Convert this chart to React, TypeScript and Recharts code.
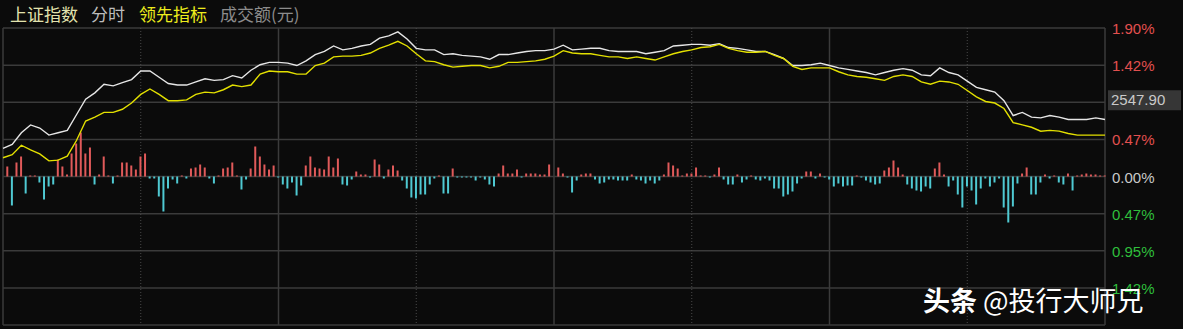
import React from "react";
import { ComposedChart, Bar, Line, XAxis, YAxis, CartesianGrid, Cell } from "recharts";

// minute index 0..240 (9:30-11:30, 13:00-15:00), lines sampled every 2 minutes
const LINE_STEP = 2;

// 上证指数 white line, % change vs previous close
const INDEX_PCT = [
  0.36, 0.41, 0.56, 0.66, 0.62, 0.53, 0.56, 0.59, 0.79, 0.99,
  1.07, 1.18, 1.16, 1.2, 1.24, 1.35, 1.35, 1.27, 1.19, 1.17,
  1.17, 1.21, 1.25, 1.23, 1.24, 1.29, 1.26, 1.36, 1.43, 1.46,
  1.46, 1.45, 1.42, 1.48, 1.56, 1.6, 1.67, 1.62, 1.64, 1.67,
  1.69, 1.77, 1.8, 1.85, 1.76, 1.64, 1.62, 1.62, 1.56, 1.57,
  1.55, 1.54, 1.53, 1.5, 1.56, 1.56, 1.58, 1.6, 1.61, 1.61,
  1.63, 1.68, 1.62, 1.63, 1.64, 1.64, 1.61, 1.6, 1.6, 1.6,
  1.57, 1.59, 1.61, 1.67, 1.68, 1.69, 1.69, 1.68, 1.7, 1.65,
  1.64, 1.62, 1.6, 1.6, 1.56, 1.51, 1.42, 1.42, 1.43, 1.45,
  1.42, 1.39, 1.37, 1.35, 1.33, 1.3, 1.33, 1.36, 1.38, 1.36,
  1.3, 1.29, 1.39, 1.33, 1.3, 1.22, 1.14, 1.11, 1.08, 0.97,
  0.78, 0.82, 0.76, 0.75, 0.78, 0.76, 0.73, 0.73, 0.73, 0.75,
  0.73,
];

// 领先指标 yellow line
const LEAD_PCT = [
  0.24, 0.28, 0.4, 0.34, 0.29, 0.2, 0.21, 0.26, 0.46, 0.71,
  0.76, 0.82, 0.82, 0.86, 0.94, 1.05, 1.12, 1.05, 0.97, 0.97,
  0.98, 1.05, 1.08, 1.07, 1.11, 1.17, 1.15, 1.17, 1.31, 1.35,
  1.34, 1.34, 1.31, 1.31, 1.42, 1.45, 1.53, 1.54, 1.54, 1.55,
  1.58, 1.64, 1.68, 1.73, 1.67, 1.57, 1.48, 1.47, 1.43, 1.4,
  1.41, 1.42, 1.42, 1.39, 1.41, 1.46, 1.46, 1.47, 1.48, 1.5,
  1.54, 1.61, 1.58, 1.57, 1.57, 1.55, 1.53, 1.53, 1.51, 1.53,
  1.51, 1.49, 1.53, 1.57, 1.6, 1.62, 1.65, 1.66, 1.69, 1.64,
  1.61, 1.59, 1.59, 1.6, 1.55, 1.51, 1.41, 1.37, 1.39, 1.39,
  1.39, 1.34, 1.3, 1.28, 1.27, 1.25, 1.23, 1.28, 1.3, 1.28,
  1.21, 1.18, 1.22, 1.21, 1.18, 1.1, 1.02, 0.96, 0.94, 0.87,
  0.69, 0.66, 0.63, 0.58, 0.59, 0.58, 0.55, 0.53, 0.53, 0.53,
  0.53,
];

// buy/sell pressure bars, one per minute (relative units)
const PRESSURE = [
  0, 10, -29, 14, 20, -17, 1, 1, -6, -23,
  -10, -8, 17, 10, 2, 23, 33, 44, 23, 29,
  -8, 2, 20, 1, -7, 1, 14, 14, 11, 7,
  20, 23, -2, -2, -20, -35, -12, -3, -7, 1,
  -2, 8, 9, 12, 9, -2, -7, 1, 8, 9,
  14, 1, -13, -3, 8, 30, 20, 12, 7, 11,
  -1, -8, -12, -6, -19, -9, 11, 20, 9, 8,
  7, 20, 9, 18, -8, -9, -3, 5, 2, 2,
  -1, 17, 12, -2, 7, 11, 6, -4, -12, -21,
  -22, -18, -18, -8, -2, 1, -17, -17, 8, -1,
  -1, -1, -1, -4, -1, -3, -8, -10, 3, 11,
  3, 3, 7, -1, 3, 3, 3, 2, 2, 12,
  0, 9, 3, -1, -16, -4, 2, 3, 3, -3,
  -7, -6, -3, -3, -4, -4, -4, 2, -3, -4,
  -7, -4, -7, -4, 2, 14, 11, 8, 1, 3,
  3, 9, 1, 1, -1, 2, 9, -3, -8, -8,
  2, -6, -3, 1, -3, -4, -2, -4, -12, -12,
  -20, -18, -15, -7, -2, 5, 5, -2, 3, -1,
  -3, -10, -7, -10, -9, -9, 1, -1, -4, -6,
  -8, -7, 6, 9, 16, 9, 2, -8, -12, -14,
  -15, -10, -12, 8, 14, 2, -10, -4, -18, -31,
  -10, -14, -28, -12, -2, -10, -6, -2, -31, -46,
  -30, -7, 3, 9, -18, -18, -6, 2, -2, 1,
  -6, -8, 3, -14, 1, 2, 3, 2, 2, 1,
  1,
];

const PCT_TICKS = [1.9, 1.425, 0.95, 0.475, 0, -0.475, -0.95, -1.425, -1.9];
const PCT_LABELS = ["1.90%", "1.42%", "2547.90", "0.47%", "0.00%", "0.47%", "0.95%", "1.42%", ""];
const PRICE_TICK = 0.95;

const HALF_HOURS = [30, 60, 90, 120, 150, 180, 210];

const table = PRESSURE.map((p, t) => ({
  t,
  pressure: p,
  index: t % LINE_STEP === 0 ? INDEX_PCT[t / LINE_STEP] : null,
  lead: t % LINE_STEP === 0 ? LEAD_PCT[t / LINE_STEP] : null,
}));

const RED = "#e2504f";
const GREEN = "#2fbf3c";
const GRID = "#3b3b3b";

function PctTick(props: any) {
  const { y, payload } = props;
  const i = PCT_TICKS.indexOf(payload.value);
  const label = PCT_LABELS[i] ?? "";
  if (!label) return null;
  if (payload.value === PRICE_TICK) {
    return (
      <g>
        <rect x={1108} y={y - 12} width={73} height={20} fill="#363636" />
        <text x={1111} y={y + 3} fill="#c9c9c9" fontSize={15} fontFamily="Liberation Sans, Arial, sans-serif">
          {label}
        </text>
      </g>
    );
  }
  const color = payload.value > 0 ? RED : payload.value < 0 ? GREEN : "#c9c9c9";
  return (
    <text x={1112} y={y + 6} fill={color} fontSize={15} fontFamily="Liberation Sans, Arial, sans-serif">
      {label}
    </text>
  );
}

export default function App() {
  const cjk = '"Noto Sans CJK SC", "Noto Sans", sans-serif';
  return (
    <div style={{ position: "fixed", left: 0, top: 0, width: 1183, height: 329, background: "#0b0b0b", overflow: "hidden" }}>
      <div style={{ position: "absolute", left: 10, top: 3, fontFamily: cjk, fontSize: 17, lineHeight: "22px", whiteSpace: "nowrap" }}>
        <span style={{ color: "#e3e3ae" }}>上证指数</span>
        <span style={{ color: "#bdbdbd", marginLeft: 13 }}>分时</span>
        <span style={{ color: "#eded1c", marginLeft: 14 }}>领先指标</span>
        <span style={{ color: "#8c8c8c", marginLeft: 13 }}>成交额(元)</span>
      </div>
      <ComposedChart width={1183} height={329} data={table} margin={{ top: 28, right: 0, bottom: 4, left: 3 }}>
        <CartesianGrid
          stroke={GRID}
          strokeWidth={1.5}
          horizontalCoordinatesGenerator={({ offset }: any) =>
            PCT_TICKS.map((_, k) => offset.top + (offset.height * k) / (PCT_TICKS.length - 1))
          }
          verticalCoordinatesGenerator={({ offset }: any) =>
            [0, 60, 120, 180, 240].map((t) => offset.left + (offset.width * t) / 240)
          }
        />
        <CartesianGrid
          stroke="#4a4a4a"
          strokeDasharray="1 2"
          horizontal={false}
          verticalCoordinatesGenerator={({ offset }: any) =>
            HALF_HOURS.filter((t) => t % 60 !== 0).map((t) => offset.left + (offset.width * t) / 240)
          }
        />
        <XAxis dataKey="t" type="number" domain={[0, 240]} hide />
        <YAxis
          yAxisId="pct"
          orientation="right"
          domain={[-1.9, 1.9]}
          ticks={PCT_TICKS}
          interval={0}
          width={78}
          axisLine={false}
          tickLine={false}
          tick={<PctTick />}
        />
        <YAxis yAxisId="bar" hide domain={[-148.5, 148.5]} />
        <Bar yAxisId="bar" dataKey="pressure" barSize={2} isAnimationActive={false}>
          {table.map((row) => (
            <Cell key={row.t} fill={row.pressure >= 0 ? "#e05a5a" : "#4fc9d2"} />
          ))}
        </Bar>
        <Line
          yAxisId="pct"
          dataKey="index"
          type="linear"
          stroke="#e6e6e6"
          strokeWidth={1.4}
          dot={false}
          connectNulls
          isAnimationActive={false}
        />
        <Line
          yAxisId="pct"
          dataKey="lead"
          type="linear"
          stroke="#e3e000"
          strokeWidth={1.4}
          dot={false}
          connectNulls
          isAnimationActive={false}
        />
      </ComposedChart>
      <div
        style={{
          position: "absolute",
          left: 923,
          top: 283,
          fontFamily: cjk,
          fontSize: 27,
          lineHeight: "34px",
          color: "#ffffff",
          whiteSpace: "nowrap",
        }}
      >
        <span style={{ fontWeight: 700 }}>头条</span>
        <span style={{ marginLeft: 6 }}>@投行大师兄</span>
      </div>
    </div>
  );
}
